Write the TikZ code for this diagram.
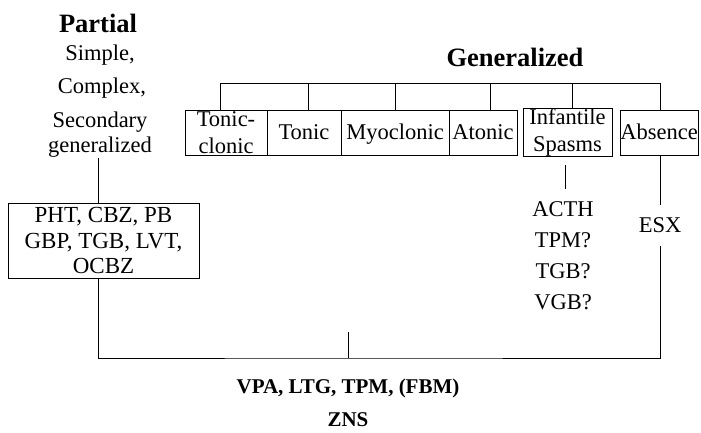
\documentclass[tikz,border=0pt]{standalone}
\usepackage{fontspec}
\setmainfont{Liberation Serif}
\newcommand\cellstrut{\rule[-5.2pt]{0pt}{25.2pt}}
\begin{document}
\begin{tikzpicture}[x=1pt,y=-1pt,line width=1pt,
  lbl/.style={font=\fontsize{22.5}{25}\selectfont, inner sep=0pt, align=center},
  hd/.style={font=\fontsize{26.5}{30}\selectfont\bfseries, inner sep=0pt},
  cell/.style={draw, minimum height=45pt, inner sep=0pt, font=\fontsize{22.5}{27}\selectfont, align=center},
  btm/.style={font=\fontsize{21}{25}\selectfont\bfseries, inner sep=0pt}]
\useasboundingbox (0,0) rectangle (701,432);

% Partial column
\node[hd] (partial) at (98,23) {Partial};
\node[lbl] (simple) at (100,55) {Simple,};
\node[lbl] (complex) at (102,88) {Complex,};
\node[lbl] (second) at (100,134.5) {Secondary\\generalized};
\node[draw, minimum width=191pt, minimum height=75pt, inner sep=0pt, align=center,
      font=\fontsize{23}{25.5}\selectfont] (drug) at (103.5,240.5) {PHT, CBZ, PB\\GBP, TGB, LVT,\\OCBZ};
\draw ([xshift=-5.5pt]drug.north) -- ([xshift=-5.5pt]drug.north |- second.south);

% Generalized
\node[hd] (gen) at (515,57) {Generalized};
\node[cell, minimum width=82pt] (tc) at (226,132.5) {Tonic-\\clonic};
\node[cell, minimum width=74pt] (to) at (304,132.5) {Tonic\cellstrut};
\node[cell, minimum width=108pt] (my) at (395,132.5) {Myoclonic\cellstrut};
\node[cell, minimum width=68pt] (at) at (483,132.5) {Atonic\cellstrut};
\node[cell, minimum width=89pt] (is) at (567.5,132.5) {Infantile\\Spasms};
\node[cell, minimum width=78pt] (ab) at (659,132.5) {Absence\cellstrut};
\coordinate (gl) at (220,83);
\coordinate (gr) at (660,83);
\draw (gl) -- (gr);
\foreach \n/\dx in {tc/-6, to/4, my/0, at/7, is/4.5, ab/1}
  \draw ([xshift=\dx pt]\n.north) -- ([xshift=\dx pt]\n.north |- gl);

% Infantile spasms drugs
\node[lbl, font=\fontsize{22.5}{31}\selectfont] (isdrug) at (563,256) {ACTH\\TPM?\\TGB?\\VGB?};
\draw[shorten <=8pt, shorten >=12pt] ([xshift=-2.5pt]is.south) -- ([xshift=-2.5pt]is.south |- isdrug.north);

% Absence
\node[lbl, minimum height=40pt] (esx) at (660,225) {ESX};
\draw (ab.south -| esx.north) -- (esx.north);

% Bottom
\coordinate (bm) at (348,358);
\coordinate (bt) at (348,332);
\draw ([xshift=-5.5pt]drug.south) |- (bm) -| (esx.south);
\draw (bm) -- (bt);
\node[btm] (vpa) at (348,388) {VPA, LTG, TPM, (FBM)};
\node[btm] (zns) at (348,420) {ZNS};
\end{tikzpicture}
\end{document}
